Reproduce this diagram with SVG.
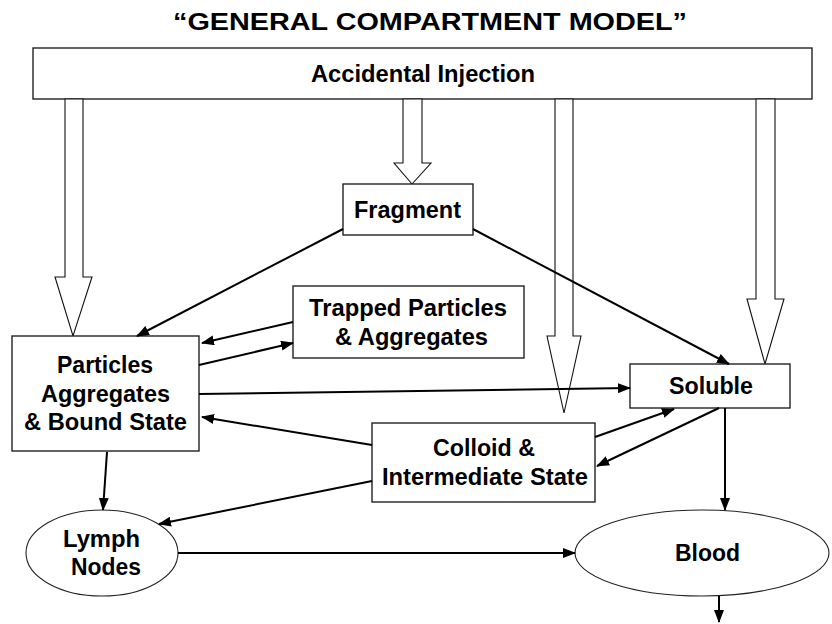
<svg xmlns="http://www.w3.org/2000/svg" width="832" height="624" viewBox="0 0 832 624">
<style>
  .box { fill: #ffffff; stroke: #222222; stroke-width: 1.4; }
  .ell { fill: #ffffff; stroke: #222222; stroke-width: 1.1; }
  .hollow { fill: #ffffff; stroke: #111111; stroke-width: 1.1; }
  .lbl { font-family: "Liberation Sans", Arial, sans-serif; font-weight: bold; font-size: 23px; fill: #000000; text-anchor: start; }
  .con { stroke: #000000; stroke-width: 2; fill: none; marker-end: url(#ah); }
  .plain { stroke: #000000; stroke-width: 2; fill: none; }
</style>
<defs>
  <marker id="ah" markerUnits="userSpaceOnUse" markerWidth="13" markerHeight="10" refX="12" refY="5" orient="auto">
    <path d="M0,0 L13,5 L0,10 Z" fill="#000000"/>
  </marker>
</defs>
<rect width="832" height="624" fill="#ffffff"/>

<text id="title" class="lbl" x="173" y="30" font-size="25" textLength="514" lengthAdjust="spacingAndGlyphs">“GENERAL COMPARTMENT MODEL”</text>

<g id="injection">
  <rect class="box" x="33" y="48" width="779" height="51"/>
  <text class="lbl" x="311" y="82" textLength="224" lengthAdjust="spacingAndGlyphs">Accidental Injection</text>
</g>

<g id="injection-arrows">
  <polygon class="hollow" points="65,99 83,99 83,277 92,277 73,336 55,277 65,277"/>
  <polygon class="hollow" points="403,99 422,99 422,163 431,163 412,184 394,163 403,163"/>
  <polygon class="hollow" points="555,99 573,99 573,336 581,336 564,413 547,336 555,336"/>
  <polygon class="hollow" points="756,99 775,99 775,299 784,299 765,364 747,299 756,299"/>
</g>

<g id="fragment">
  <rect class="box" x="343" y="184" width="130" height="51"/>
  <text class="lbl" x="354" y="218" textLength="107" lengthAdjust="spacingAndGlyphs">Fragment</text>
</g>

<g id="trapped">
  <rect class="box" x="293" y="286" width="231" height="72"/>
  <text class="lbl" x="309" y="316" textLength="198" lengthAdjust="spacingAndGlyphs">Trapped Particles</text>
  <text class="lbl" x="335" y="345" textLength="153" lengthAdjust="spacingAndGlyphs">&amp; Aggregates</text>
</g>

<g id="particles">
  <rect class="box" x="12" y="336" width="187" height="115"/>
  <text class="lbl" x="57" y="373" textLength="96" lengthAdjust="spacingAndGlyphs">Particles</text>
  <text class="lbl" x="41" y="402" textLength="129" lengthAdjust="spacingAndGlyphs">Aggregates</text>
  <text class="lbl" x="24" y="430" textLength="163" lengthAdjust="spacingAndGlyphs">&amp; Bound State</text>
</g>

<g id="soluble">
  <rect class="box" x="630" y="364" width="160" height="44"/>
  <text class="lbl" x="669" y="394" textLength="84" lengthAdjust="spacingAndGlyphs">Soluble</text>
</g>

<g id="colloid">
  <rect class="box" x="372" y="423" width="223" height="79"/>
  <text class="lbl" x="433" y="456" textLength="102" lengthAdjust="spacingAndGlyphs">Colloid &amp;</text>
  <text class="lbl" x="382" y="485" textLength="206" lengthAdjust="spacingAndGlyphs">Intermediate State</text>
</g>

<g id="lymph">
  <ellipse class="ell" cx="102" cy="553" rx="76" ry="43"/>
  <text class="lbl" x="63" y="547" textLength="77" lengthAdjust="spacingAndGlyphs">Lymph</text>
  <text class="lbl" x="71" y="575" textLength="70" lengthAdjust="spacingAndGlyphs">Nodes</text>
</g>

<g id="blood">
  <ellipse class="ell" cx="702" cy="553" rx="127" ry="43"/>
  <text class="lbl" x="675" y="561" textLength="65" lengthAdjust="spacingAndGlyphs">Blood</text>
</g>

<g id="connectors">
  <line class="con" x1="343" y1="229" x2="137" y2="336"/>
  <line class="con" x1="473" y1="229" x2="729" y2="364"/>
  <line class="con" x1="293" y1="322" x2="202" y2="343"/>
  <line class="con" x1="199" y1="365" x2="293" y2="343"/>
  <line class="con" x1="199" y1="394" x2="630" y2="388"/>
  <line class="con" x1="372" y1="445" x2="202" y2="417"/>
  <line class="con" x1="372" y1="481" x2="159" y2="524"/>
  <line class="con" x1="107" y1="452" x2="103" y2="510"/>
  <line class="con" x1="595" y1="437" x2="674" y2="409"/>
  <line class="con" x1="719" y1="408" x2="597" y2="466"/>
  <line class="con" x1="725" y1="408" x2="725" y2="510"/>
  <line class="con" x1="178" y1="553" x2="575" y2="553"/>
  <line class="con" x1="719" y1="596" x2="719" y2="622"/>
</g>
</svg>
